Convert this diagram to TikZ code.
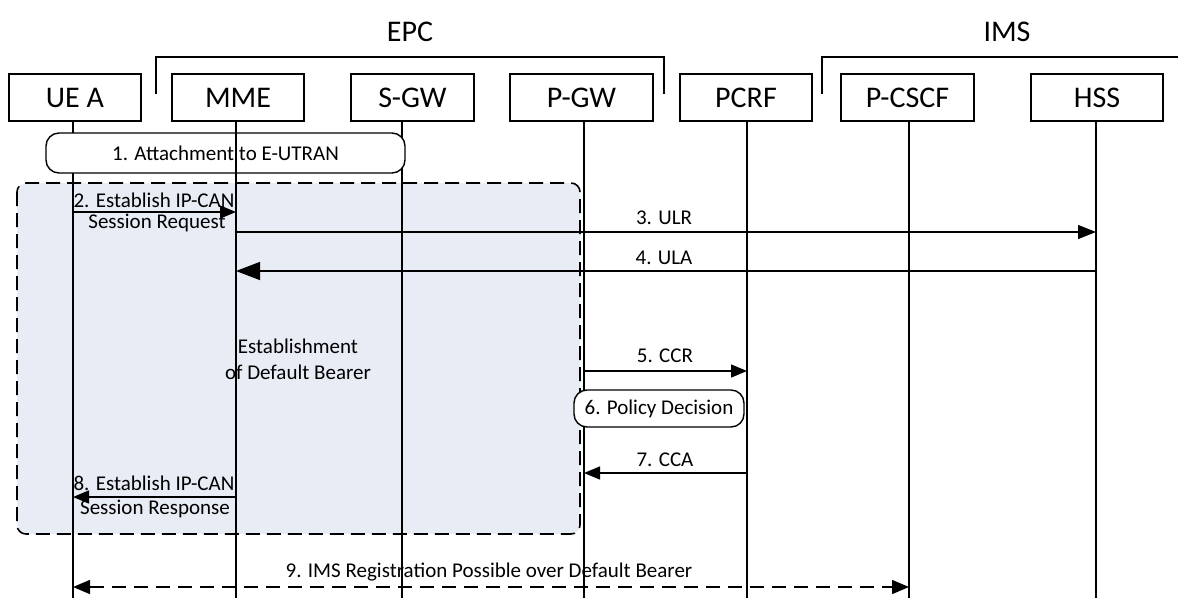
\documentclass[tikz,border=0pt]{standalone}
\usepackage{fontspec}
\setmainfont{Carlito}
\usetikzlibrary{arrows.meta,calc}
\definecolor{regionfill}{HTML}{E8ECF4}
\tikzset{
  entity/.style={draw, line width=1.4pt, minimum height=47pt, inner sep=0pt,
    font=\fontsize{30}{32}\selectfont, fill=white},
  header/.style={font=\fontsize{30}{32}\selectfont, inner sep=0pt},
  life/.style={line width=1.4pt},
  msg/.style={line width=1.4pt, -{Triangle[length=16pt,width=13pt]}},
  bigmsg/.style={line width=1.4pt, -{Triangle[length=24pt,width=18pt]}},
  dashmsg/.style={line width=1.4pt, dash pattern=on 14pt off 8pt,
    {Triangle[length=17pt,width=14pt]}-{Triangle[length=17pt,width=14pt]}},
  lbl/.style={font=\fontsize{21}{23}\selectfont, inner sep=0pt},
  action/.style={draw, line width=1.4pt, rounded corners=13pt, fill=white},
  region/.style={draw, line width=1.6pt, dash pattern=on 14pt off 7pt,
    rounded corners=9pt, fill=regionfill},
  bracket/.style={line width=1.4pt}
}
\begin{document}
\begin{tikzpicture}[x=1pt, y=-1pt]
\useasboundingbox (0,0) rectangle (1178,598);

% headers and brackets
\node[header] (epc) at (410,32) {EPC};
\node[header] (ims) at (1007,32) {IMS};
\coordinate (epcL) at (156,94);
\coordinate (epcR) at (664,94);
\coordinate (imsL) at (822,94);
\coordinate (imsR) at (1178,57);
\draw[bracket] (epcL) -- (156,57) -- (664,57) -- (epcR);
\draw[bracket] (imsL) -- (822,57) -- (imsR);

% shaded region
\draw[region] (17,183) rectangle (580,534);

% lifeline anchors
\coordinate (ue)   at (73,121);   \coordinate (ueB)   at (73,598);
\coordinate (mme)  at (236,121);  \coordinate (mmeB)  at (236,598);
\coordinate (sgw)  at (402,121);  \coordinate (sgwB)  at (402,598);
\coordinate (pgw)  at (584,121);  \coordinate (pgwB)  at (584,598);
\coordinate (pcrf) at (747,121);  \coordinate (pcrfB) at (747,598);
\coordinate (pcscf) at (909,121); \coordinate (pcscfB) at (909,598);
\coordinate (hss)  at (1096,121); \coordinate (hssB)  at (1096,598);

\foreach \a/\b in {ue/ueB, mme/mmeB, sgw/sgwB, pgw/pgwB, pcrf/pcrfB, pcscf/pcscfB, hss/hssB}
  \draw[life] (\a) -- (\b);

% entity boxes
\node[entity, minimum width=132pt] (ueBox)    at (75,97.5)   {UE A};
\node[entity, minimum width=132pt] (mmeBox)   at (238,97.5)  {MME};
\node[entity, minimum width=123pt] (sgwBox)   at (412.5,97.5){S-GW};
\node[entity, minimum width=143pt] (pgwBox)   at (581.5,97.5){P-GW};
\node[entity, minimum width=132pt] (pcrfBox)  at (746,97.5)  {PCRF};
\node[entity, minimum width=133pt] (pcscfBox) at (907.5,97.5){P-CSCF};
\node[entity, minimum width=132pt] (hssBox)   at (1097,97.5) {HSS};

% 1. attachment
\node[action, minimum width=359pt, minimum height=40pt, lbl] (attach) at (225.5,153) {1. Attachment to E-UTRAN};
\draw[life] (mme |- attach.north) -- (mme |- attach.south);

% 2. Establish IP-CAN session request
\draw[msg] (ue |- 0,212) -- (mme |- 0,212);
\node[lbl] (m2a) at (154,200) {2. Establish IP-CAN};
\node[lbl] (m2b) at (157,223) {Session Request};

% 3. ULR
\draw[msg, -{Triangle[length=18pt,width=14pt]}] (mme |- 0,232) -- (hss |- 0,232);
\node[lbl] (m3) at (664,218) {3. ULR};

% 4. ULA
\draw[bigmsg] (hss |- 0,271) -- (mme |- 0,271);
\node[lbl] (m4) at (664,258) {4. ULA};

% establishment text
\node[lbl] (est1) at (298,346) {Establishment};
\node[lbl] (est2) at (298,372) {of Default Bearer};

% 5. CCR
\draw[msg] (pgw |- 0,371) -- (pcrf |- 0,371);
\node[lbl] (m5) at (665,356) {5. CCR};

% 6. policy decision
\node[action, minimum width=170pt, minimum height=37pt, lbl] (policy) at (659,408.5) {6. Policy Decision};

% 7. CCA
\draw[msg] (pcrf |- 0,473) -- (pgw |- 0,473);
\node[lbl] (m7) at (665,460) {7. CCA};

% 8. Establish IP-CAN session response
\draw[msg] (mme |- 0,497) -- (ue |- 0,497);
\node[lbl] (m8a) at (154,483) {8. Establish IP-CAN};
\node[lbl] (m8b) at (155,509) {Session Response};

% 9. IMS registration
\draw[dashmsg] (ue |- 0,587) -- (pcscf |- 0,587);
\node[lbl] (m9) at (489,572) {9. IMS Registration Possible over Default Bearer};
\end{tikzpicture}
\end{document}
